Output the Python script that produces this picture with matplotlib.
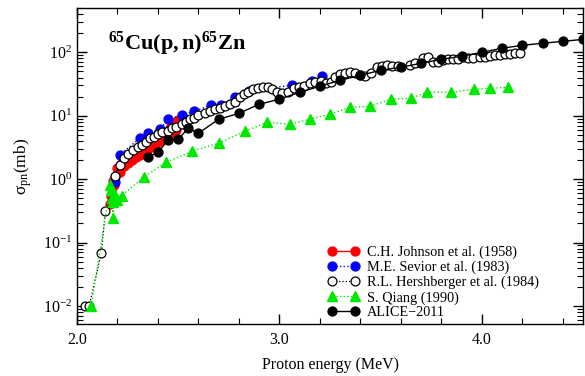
import matplotlib
matplotlib.use("Agg")
import matplotlib.pyplot as plt
from matplotlib.ticker import MultipleLocator, LogLocator, LogFormatterMathtext, NullFormatter

plt.rcParams['font.family'] = ['Liberation Serif', 'DejaVu Serif']
plt.rcParams['mathtext.fontset'] = 'custom'
plt.rcParams['mathtext.rm'] = 'Liberation Serif'
plt.rcParams['mathtext.it'] = 'Liberation Serif:italic'
plt.rcParams['mathtext.bf'] = 'Liberation Serif:bold'

# ---- data ----
johnson_E = [2.165, 2.17, 2.175, 2.18, 2.185, 2.19, 2.20, 2.21, 2.22, 2.23, 2.24, 2.25, 2.26,
             2.27, 2.28, 2.29, 2.30, 2.31, 2.32, 2.33, 2.34, 2.35, 2.36, 2.37, 2.38, 2.39,
             2.40, 2.41, 2.42, 2.43, 2.44, 2.45, 2.46, 2.47, 2.48, 2.49, 2.50, 2.51]
johnson_s = [0.40, 0.55, 0.75, 0.95, 0.8, 1.1, 1.5, 1.3, 1.8, 1.6, 2.0, 1.8, 2.2,
             2.0, 2.5, 2.2, 2.7, 2.4, 2.9, 2.7, 3.3, 3.0, 3.6, 3.3, 4.0, 3.6,
             4.4, 4.0, 5.0, 4.4, 5.6, 4.8, 6.5, 5.3, 7.8, 6.0, 8.6, 7.5]

sevior_E = [2.19, 2.21, 2.31, 2.35, 2.41, 2.45, 2.52, 2.58, 2.66, 2.71, 2.78, 2.85,
            3.06, 3.16, 3.21]
sevior_s = [0.9, 2.4, 4.4, 5.3, 6.1, 8.8, 10.2, 11.8, 14.6, 14.6, 19.6, 25.0,
            30.2, 34.9, 41.9]

hersh_E = [2.04, 2.06, 2.12, 2.14, 2.19, 2.21, 2.23, 2.25, 2.275, 2.30, 2.32, 2.34,
           2.36, 2.38, 2.40, 2.42, 2.45, 2.47, 2.49, 2.52, 2.54, 2.56, 2.58,
           2.60, 2.632, 2.657, 2.681, 2.706, 2.731, 2.756, 2.780, 2.805, 2.825,
           2.844, 2.869, 2.894, 2.919, 2.943, 2.963, 2.988, 3.012, 3.042, 3.072,
           3.096, 3.121, 3.151, 3.175, 3.205, 3.230, 3.254, 3.274, 3.299, 3.323,
           3.348, 3.373, 3.398, 3.422, 3.452, 3.481, 3.506, 3.531, 3.556, 3.585,
           3.644, 3.669, 3.709, 3.733, 3.758, 3.783, 3.807, 3.832, 3.857, 3.881,
           3.906, 3.931, 3.956, 3.990, 4.015, 4.040, 4.064, 4.089, 4.114, 4.138,
           4.163, 4.188]
hersh_s = [0.010, 0.010, 0.068, 0.31, 1.11, 1.66, 2.14, 2.5, 2.9, 3.2, 3.4, 3.8,
           4.4, 4.6, 5.1, 5.5, 5.7, 6.4, 6.6, 7.3, 7.9, 8.8, 9.1,
           10.2, 10.9, 11.8, 12.6, 13.1, 14.1, 15.2, 16.3, 19.6, 21.8,
           23.4, 26.2, 27.1, 28.1, 28.1, 26.2, 23.4, 22.6, 23.4, 27.1,
           28.1, 29.2, 32.5, 33.7, 34.9, 32.5, 33.7, 40.4, 45.0, 46.7,
           48.4, 46.7, 43.4, 41.9, 46.7, 58.1, 60.2, 62.4, 60.2, 60.0,
           62.4, 67.1, 80.4, 83.4, 69.6, 69.6, 74.8, 77.6, 77.6, 77.6,
           83.4, 80.4, 80.4, 83.4, 83.4, 86.5, 89.7, 89.7, 93.0, 93.0,
           96.4, 96.4]

qiang_E = [2.07, 2.165, 2.17, 2.175, 2.178, 2.18, 2.19, 2.20, 2.22, 2.33, 2.44, 2.57,
           2.70, 2.83, 2.94, 3.05, 3.15, 3.25, 3.35, 3.45, 3.55, 3.65, 3.73, 3.85,
           3.96, 4.04, 4.13]
qiang_s = [0.010, 0.80, 0.67, 0.50, 0.24, 0.43, 0.56, 0.47, 0.55, 1.07, 1.85, 2.76,
           3.69, 5.70, 7.9, 7.35, 8.8, 10.6, 13.6, 14.1, 18.2, 18.9, 23.4, 23.4,
           26.1, 27.1, 28.1]

alice_E = [2.35, 2.40, 2.45, 2.50, 2.55, 2.60, 2.70, 2.80, 2.90, 3.00, 3.10, 3.20,
           3.30, 3.40, 3.50, 3.60, 3.70, 3.80, 3.90, 4.00, 4.10, 4.20, 4.30, 4.40, 4.50]
alice_s = [2.22, 2.66, 4.11, 4.26, 6.36, 5.30, 8.81, 10.9, 15.2, 18.2, 23.4, 29.2,
           36.2, 43.4, 52.1, 58.1, 67.2, 77.6, 86.5, 100.0, 116.0, 129.0, 139.0, 149.0, 160.0]

labels = ["C.H. Johnson et al. (1958)", "M.E. Sevior et al. (1983)",
          "R.L. Hershberger et al. (1984)", "S. Qiang (1990)", "ALICE\u22122011"]

# ---- figure ----
fig = plt.figure(figsize=(5.85, 3.76), dpi=100)
ax = fig.add_axes([77/585, 1-324/376, (583-77)/585, (324-8)/376])

green = '#00E800'
ms = 6.4
ax.plot(johnson_E, johnson_s, '-', color='#FF0000', lw=1.0, marker='o', ms=ms,
        mfc='#FF0000', mec='#FF0000', label=labels[0], zorder=2)
ax.plot(sevior_E, sevior_s, ':', color='#0000FF', lw=1.0, marker='o', ms=ms,
        mfc='#0000FF', mec='#0000FF', label=labels[1], zorder=2)
ax.plot(hersh_E, hersh_s, ':', color='black', lw=0.9, marker='o', ms=ms,
        mfc='white', mec='black', mew=0.9, label=labels[2], zorder=3)
ax.plot(qiang_E, qiang_s, ':', color=green, lw=1.0, marker='^', ms=ms+0.8,
        mfc=green, mec=green, label=labels[3], zorder=4)
ax.plot(alice_E, alice_s, '-', color='black', lw=1.0, marker='o', ms=ms,
        mfc='black', mec='black', label=labels[4], zorder=5)

ax.set_yscale('log')
ax.set_xlim(2.0, 4.5)
ax.set_ylim(0.0052, 500)

ax.xaxis.set_major_locator(MultipleLocator(1.0))
ax.xaxis.set_minor_locator(MultipleLocator(0.2))
ax.xaxis.set_major_formatter(plt.FuncFormatter(lambda v, p: f"{v:.1f}"))
ax.yaxis.set_major_locator(LogLocator(base=10, numticks=20))
ax.yaxis.set_minor_locator(LogLocator(base=10, subs=range(2, 10), numticks=20))
ax.yaxis.set_major_formatter(LogFormatterMathtext())
ax.yaxis.set_minor_formatter(NullFormatter())

ax.tick_params(which='both', direction='in', top=True, right=True, labelsize=11.5)
ax.tick_params(which='major', length=7, width=1)
ax.tick_params(which='minor', length=4, width=0.8)
ax.tick_params(axis='x', pad=6)
for s in ax.spines.values():
    s.set_linewidth(1.0)

ax.set_xlabel("Proton energy (MeV)", fontsize=11.5, labelpad=6)
ax.set_ylabel("\u03c3$_{\\rm pn}$(mb)", fontsize=12.5, labelpad=6)

fig.text(108/585, 1-50/376, r"$\mathbf{^{65}Cu(p,n)^{65}Zn}$", fontsize=16,
         ha='left', va='baseline')

leg = ax.legend(loc='lower left', bbox_to_anchor=(0.495, 0.015), frameon=False,
                fontsize=10.3, handlelength=2.2, handletextpad=0.55,
                labelspacing=0.12, borderpad=0, borderaxespad=0, numpoints=2)

fig.savefig("out.png", dpi=100)
